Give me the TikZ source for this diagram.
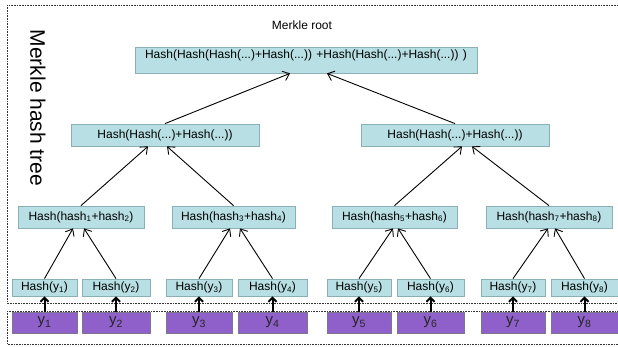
\documentclass[tikz,border=0pt]{standalone}
\usepackage{fontspec}
\setmainfont{Liberation Sans}
\usepackage{xcolor}
\usetikzlibrary{arrows.meta}

\definecolor{hashfill}{RGB}{184,223,227}
\definecolor{hashline}{RGB}{138,176,182}
\definecolor{datafill}{RGB}{143,96,201}
\definecolor{dataline}{RGB}{125,118,140}

\begin{document}
\begin{tikzpicture}[
    x=1pt, y=-1pt,
    font=\fontsize{12}{14}\selectfont,
    hbox/.style={rectangle, draw=hashline, fill=hashfill, line width=0.8pt, inner sep=0pt, align=center, text=black},
    leafbox/.style={hbox, minimum height=17pt},
    midbox/.style={hbox, minimum height=22pt},
    databox/.style={rectangle, draw=dataline, fill=datafill, line width=0.8pt, inner sep=0pt, minimum height=21pt, font=\fontsize{15}{17}\selectfont, text=black!85},
    frame/.style={draw=black!80, dash pattern=on 0.8pt off 0.8pt, line width=0.8pt},
    arr/.style={-{Straight Barb[length=6pt, width=10pt]}, line width=0.9pt},
    dataarr/.style={-{Straight Barb[length=4pt, width=8pt]}, line width=2pt}
]
\useasboundingbox (0,0) rectangle (618,347);

% ============================================================
% FRAMES
% ============================================================
\draw[frame] (7,5) rectangle (624,303);
\draw[frame] (7,311) rectangle (624,344);

\node[font=\fontsize{21}{24}\selectfont, rotate=-90] (title) at (38,108) {Merkle hash tree};
\node (rootlab) at (302,25) {Merkle root};

% ============================================================
% TREE
% ============================================================
\node[hbox, minimum width=342pt, minimum height=26pt, text height=9pt, text depth=12.5pt] (root) at (306,60)
    {Hash(Hash(Hash(...)+Hash(...)) +Hash(Hash(...)+Hash(...)) )};

\node[midbox, minimum width=188pt] (hL) at (165,135) {Hash(Hash(...)+Hash(...))};
\node[midbox, minimum width=188pt] (hR) at (455,135) {Hash(Hash(...)+Hash(...))};

\node[midbox, minimum width=126pt] (h12) at (81,217)    {Hash(hash\textsubscript{1}+hash\textsubscript{2})};
\node[midbox, minimum width=123pt] (h34) at (233.5,217) {Hash(hash\textsubscript{3}+hash\textsubscript{4})};
\node[midbox, minimum width=125pt] (h56) at (394.5,217) {Hash(hash\textsubscript{5}+hash\textsubscript{6})};
\node[midbox, minimum width=126pt] (h78) at (549,217)   {Hash(hash\textsubscript{7}+hash\textsubscript{8})};

\node[leafbox, minimum width=65pt] (h1) at (44.5,287.5)  {Hash(y\textsubscript{1})};
\node[leafbox, minimum width=68pt] (h2) at (116,287.5)   {Hash(y\textsubscript{2})};
\node[leafbox, minimum width=66pt] (h3) at (199,287.5)   {Hash(y\textsubscript{3})};
\node[leafbox, minimum width=69pt] (h4) at (272.5,287.5) {Hash(y\textsubscript{4})};
\node[leafbox, minimum width=64pt] (h5) at (359,287.5)   {Hash(y\textsubscript{5})};
\node[leafbox, minimum width=67pt] (h6) at (430.5,287.5) {Hash(y\textsubscript{6})};
\node[leafbox, minimum width=64pt] (h7) at (513,287.5)   {Hash(y\textsubscript{7})};
\node[leafbox, minimum width=67pt] (h8) at (584.5,287.5) {Hash(y\textsubscript{8})};

\node[databox, minimum width=65pt] (y1) at (44.5,322.5)  {y\textsubscript{1}};
\node[databox, minimum width=68pt] (y2) at (116,322.5)   {y\textsubscript{2}};
\node[databox, minimum width=66pt] (y3) at (199,322.5)   {y\textsubscript{3}};
\node[databox, minimum width=69pt] (y4) at (272.5,322.5) {y\textsubscript{4}};
\node[databox, minimum width=64pt] (y5) at (359,322.5)   {y\textsubscript{5}};
\node[databox, minimum width=67pt] (y6) at (430.5,322.5) {y\textsubscript{6}};
\node[databox, minimum width=64pt] (y7) at (513,322.5)   {y\textsubscript{7}};
\node[databox, minimum width=67pt] (y8) at (584.5,322.5) {y\textsubscript{8}};

% ============================================================
% ARROWS
% ============================================================
\draw[arr] (hL.north) -- ([xshift=-16pt]root.south);
\draw[arr] (hR.north) -- ([xshift=21pt]root.south);

\draw[arr] (h12.north) -- ([xshift=-17pt]hL.south);
\draw[arr] (h34.north) -- ([xshift=2pt]hL.south);
\draw[arr] (h56.north) -- ([xshift=7pt]hR.south);
\draw[arr] (h78.north) -- ([xshift=17pt]hR.south);

\draw[arr] (h1.north) -- ([xshift=-8pt]h12.south);
\draw[arr] (h2.north) -- ([xshift=3pt]h12.south);
\draw[arr] (h3.north) -- ([xshift=-3.5pt]h34.south);
\draw[arr] (h4.north) -- ([xshift=6.5pt]h34.south);
\draw[arr] (h5.north) -- ([xshift=-1.5pt]h56.south);
\draw[arr] (h6.north) -- ([xshift=3.5pt]h56.south);
\draw[arr] (h7.north) -- ([xshift=-1pt]h78.south);
\draw[arr] (h8.north) -- ([xshift=6pt]h78.south);

\draw[dataarr] (y1) -- (h1);
\draw[dataarr] (y2) -- (h2);
\draw[dataarr] (y3) -- (h3);
\draw[dataarr] (y4) -- (h4);
\draw[dataarr] (y5) -- (h5);
\draw[dataarr] (y6) -- (h6);
\draw[dataarr] (y7) -- (h7);
\draw[dataarr] (y8) -- (h8);

\end{tikzpicture}
\end{document}
